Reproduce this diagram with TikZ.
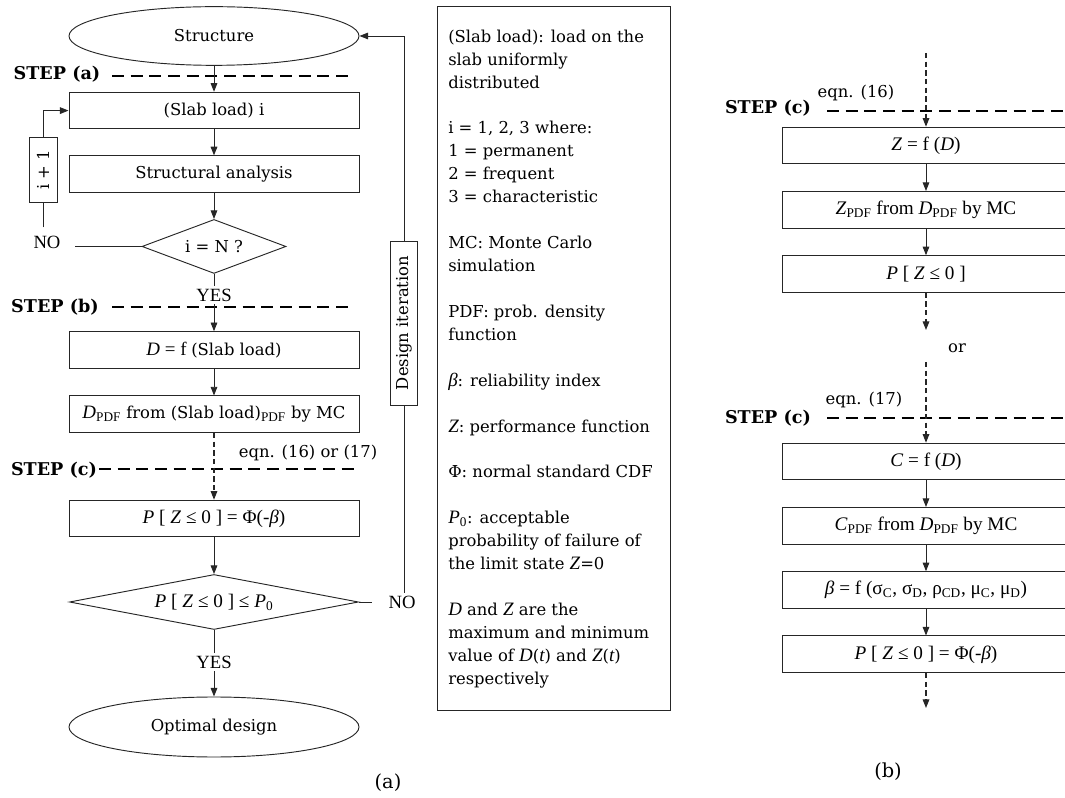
\documentclass[tikz,border=0pt]{standalone}
\usepackage{fontspec}
\setmainfont{DejaVu Serif}
\newfontfamily\eqfont{Liberation Serif}
\usetikzlibrary{positioning,shapes.geometric,arrows.meta}
\newcommand\eqn[1]{{\eqfont\fontsize{14.2}{17.2}\selectfont #1}}
\newcommand\varit[1]{\eqn{\itshape #1}}

\begin{document}
\begin{tikzpicture}[x=0.75pt, y=-0.75pt,
    node distance=19.5pt,
    font=\fontsize{12.3}{17.2}\selectfont,
    block/.style={rectangle, draw=black!85, line width=0.7pt, minimum width=217.5pt, minimum height=27.5pt, inner sep=0pt, align=center},
    eqblock/.style={block, font=\eqfont\fontsize{14.4}{17.2}\selectfont},
    term/.style={ellipse, draw=black!85, line width=0.7pt, minimum width=217.5pt, minimum height=44pt, inner sep=0pt},
    decision/.style={diamond, draw=black!85, line width=0.7pt, inner sep=0pt, aspect=4},
    tag/.style={rectangle, draw=black!85, line width=0.7pt, inner sep=0pt, rotate=90},
    frame/.style={rectangle, draw=black!85, line width=0.7pt, inner sep=0pt},
    answer/.style={font=\eqfont\fontsize{14}{17.2}\selectfont, inner sep=2pt},
    steplabel/.style={font=\bfseries\fontsize{13.2}{16}\selectfont, inner sep=0pt},
    caption/.style={font=\fontsize{14.5}{17}\selectfont},
    stepline/.style={line width=1.4pt, dash pattern=on 9pt off 5pt},
    link/.style={draw=black!85, line width=0.7pt},
    arrow/.style={-{Triangle[length=6.5pt, width=5pt]}, draw=black!85, line width=0.7pt},
    dasharrow/.style={arrow, line width=0.85pt, dash pattern=on 4pt off 2.5pt}
]
    \path[use as bounding box, clip] (0,0) rectangle (1065,798);

    % Nodes (a)
    \node[term] (structure) at (214,36) {Structure};
    \node[block, below=of structure] (slabload) {(Slab load) i};
    \node[block, below=of slabload] (analysis) {Structural analysis};
    \node[decision, minimum width=108pt, minimum height=40.5pt, below=of analysis] (lastcase) {i = N ?};
    \node[answer] (yesa) at (214,295) {YES};
    \node[answer] (noa) at (47,242) {NO};
    \node[tag, minimum width=48.75pt, minimum height=21pt] (next) at (43,170) {i + 1};
    \node[block] (dfun) at (214,350) {\varit{D}\eqn{ = f }(Slab load)};
    \node[block, below=20pt of dfun] (dpdf) {\varit{D}\eqn{\textsubscript{PDF}} from (Slab load)\eqn{\textsubscript{PDF}} by MC};
    \node[eqblock] (pfail) at (214,518.5) {\textit{P} [ \textit{Z} ≤ 0 ] = Φ(-\textit{β})};
    \node[decision, minimum width=216.75pt, minimum height=41.25pt, font=\eqfont\fontsize{14.4}{17.2}\selectfont] (check) at (214,602) {\textit{P} [ \textit{Z} ≤ 0 ] ≤ \textit{P}\textsubscript{0}};
    \node[answer] (yesb) at (214,662) {YES};
    \node[answer] (nob) at (402,602) {NO};
    \node[term, minimum height=45pt] (optimal) at (214,727) {Optimal design};
    \node[tag, minimum width=123pt, minimum height=20.25pt] (iterate) at (404,323) {Design iteration};

    % Step labels (a)
    \node[steplabel] (stepa) at (57,74) {STEP (a)};
    \node[steplabel] (stepb) at (55,307) {STEP (b)};
    \node[steplabel] (stepc) at (54,470) {STEP (c)};
    \node (eqsa) at (308,453) {eqn. (16) or (17)};
    \draw[stepline] (112,76) -- (353,76);
    \draw[stepline] (112,307) -- (353,307);
    \draw[stepline] (99,469) -- (360,469);

    % Arrows (a)
    \draw[arrow] (structure) -- (slabload);
    \draw[arrow] (slabload) -- (analysis);
    \draw[arrow] (analysis) -- (lastcase);
    \draw[link] (lastcase) -- (yesa);
    \draw[arrow] (yesa) -- (dfun);
    \draw[arrow] (dfun) -- (dpdf);
    \draw[dasharrow] (dpdf) -- (pfail);
    \draw[arrow] (pfail) -- (check);
    \draw[link] (check) -- (yesb);
    \draw[arrow] (yesb) -- (optimal);

    % Loop over the load cases
    \draw[link, shorten >=9pt] (lastcase.west) -- (lastcase.west -| noa.east);
    \draw[link, shorten <=4pt] (noa.north -| next.west) -- (next.west);
    \draw[arrow] (next.east) |- (slabload.west);

    % Design iteration loop
    \draw[link, shorten >=10.5pt] (check.east) -- (check.east -| nob.west);
    \draw[link] (nob.north -| iterate.west) -- (iterate.west);
    \draw[arrow] (iterate.east) |- (structure.east);

    % Legend
    \node[frame, minimum width=174.75pt, minimum height=528pt, anchor=north west] (legend) at (437,6) {};
    \node[anchor=north west, align=left, inner sep=0pt] (notes) at (448,29.5) {%
        (Slab load): load on the\\ slab uniformly\\ distributed\\[17.2pt]
        i = 1, 2, 3 where:\\ 1 = permanent\\ 2 = frequent\\ 3 = characteristic\\[17.2pt]
        MC: Monte Carlo\\ simulation\\[17.2pt]
        PDF: prob. density\\ function\\[17.2pt]
        \varit{β}: reliability index\\[17.2pt]
        \varit{Z}: performance function\\[17.2pt]
        Φ: normal standard CDF\\[17.2pt]
        \varit{P}\eqn{\textsubscript{0}}: acceptable\\ probability of failure of\\ the limit state \varit{Z}=0\\[17.2pt]
        \varit{D} and \varit{Z} are the\\ maximum and minimum\\ value of \varit{D}(\varit{t}) and \varit{Z}(\varit{t})\\ respectively};

    % Nodes (b)
    \node[eqblock, minimum width=216pt] (zfun) at (926,145.5) {\textit{Z} = f (\textit{D})};
    \node[eqblock, minimum width=216pt, below=20pt of zfun] (zpdf) {\textit{Z}\textsubscript{PDF} from \textit{D}\textsubscript{PDF} by MC};
    \node[eqblock, minimum width=216pt, below=20pt of zpdf] (pz) {\textit{P} [ \textit{Z} ≤ 0 ]};
    \node (orword) at (957,348) {or};
    \node[eqblock, minimum width=216pt] (cfun) at (926,461.5) {\textit{C} = f (\textit{D})};
    \node[eqblock, minimum width=216pt, below=20pt of cfun] (cpdf) {\textit{C}\textsubscript{PDF} from \textit{D}\textsubscript{PDF} by MC};
    \node[eqblock, minimum width=216pt, below=20pt of cpdf] (beta) {\textit{β} = f (σ\textsubscript{C}, σ\textsubscript{D}, ρ\textsubscript{CD}, μ\textsubscript{C}, μ\textsubscript{D})};
    \node[eqblock, minimum width=216pt, below=20pt of beta] (pb) {\textit{P} [ \textit{Z} ≤ 0 ] = Φ(-\textit{β})};
    \coordinate (inz) at (926,53);
    \coordinate (orend) at (926,330);
    \coordinate (orstart) at (926,362);
    \coordinate (outb) at (926,708);

    % Step labels (b)
    \node[steplabel] (stepc1) at (768,108) {STEP (c)};
    \node (eqs1) at (856,93) {eqn. (16)};
    \node[steplabel] (stepc2) at (768,418) {STEP (c)};
    \node (eqs2) at (864,400) {eqn. (17)};
    \draw[stepline] (827,111) -- (1070,111);
    \draw[stepline] (827,418) -- (1070,418);

    % Arrows (b)
    \draw[dasharrow] (inz) -- (zfun);
    \draw[arrow] (zfun) -- (zpdf);
    \draw[arrow] (zpdf) -- (pz);
    \draw[dasharrow] (pz) -- (orend);
    \draw[dasharrow] (orstart) -- (cfun);
    \draw[arrow] (cfun) -- (cpdf);
    \draw[arrow] (cpdf) -- (beta);
    \draw[arrow] (beta) -- (pb);
    \draw[dasharrow] (pb) -- (outb);

    % Captions
    \node[caption] (capa) at (388,783) {(a)};
    \node[caption] (capb) at (888,772) {(b)};
\end{tikzpicture}
\end{document}
